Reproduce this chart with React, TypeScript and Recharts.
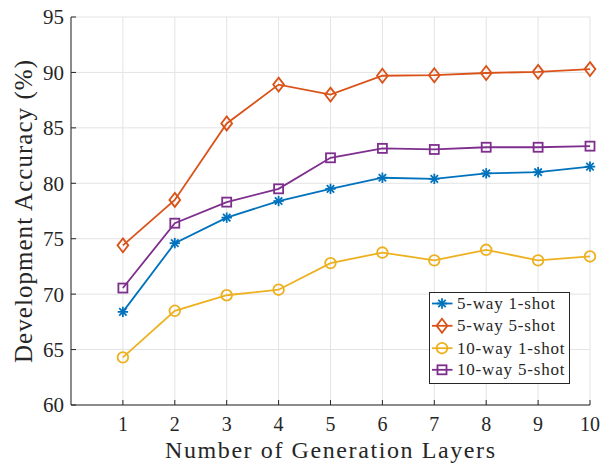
import React from 'react';
import { LineChart, Line, XAxis, YAxis, CartesianGrid, Legend } from 'recharts';

// ---- data ----
const layers = [1, 2, 3, 4, 5, 6, 7, 8, 9, 10];
const acc5way1shot = [68.4, 74.6, 76.9, 78.4, 79.5, 80.5, 80.4, 80.9, 81.0, 81.5];
const acc5way5shot = [74.4, 78.5, 85.4, 88.9, 88.0, 89.7, 89.75, 89.95, 90.05, 90.3];
const acc10way1shot = [64.3, 68.5, 69.9, 70.4, 72.8, 73.75, 73.05, 74.0, 73.05, 73.4];
const acc10way5shot = [70.55, 76.4, 78.3, 79.5, 82.3, 83.15, 83.05, 83.25, 83.25, 83.35];
const seriesNames = ['5-way 1-shot', '5-way 5-shot', '10-way 1-shot', '10-way 5-shot'];
const xTicks = [1, 2, 3, 4, 5, 6, 7, 8, 9, 10];
const yTicks = [60, 65, 70, 75, 80, 85, 90, 95];
const xLabel = 'Number of Generation Layers';
const yLabel = 'Development Accuracy (%)';

const data = layers.map((layer, i) => ({
  layer,
  s1: acc5way1shot[i],
  s2: acc5way5shot[i],
  s3: acc10way1shot[i],
  s4: acc10way5shot[i],
}));

const series = [
  { key: 's1', name: seriesNames[0], color: '#0072BD', marker: 'star' },
  { key: 's2', name: seriesNames[1], color: '#D95319', marker: 'diamond' },
  { key: 's3', name: seriesNames[2], color: '#EDB120', marker: 'circle' },
  { key: 's4', name: seriesNames[3], color: '#7E2F8E', marker: 'square' },
];
const legendTextLen = [98, 98, 107.5, 107.5];

const FONT = '"Liberation Serif", "Times New Roman", serif';
const INK = '#262626';

function Marker({ kind, cx, cy, color }: { kind: string; cx: number; cy: number; color: string }) {
  const sw = 1.8;
  if (kind === 'star') {
    const r = 5.2;
    const d = 3.7;
    return (
      <g stroke={color} strokeWidth={sw} fill="none">
        <line x1={cx - r} y1={cy} x2={cx + r} y2={cy} />
        <line x1={cx} y1={cy - r} x2={cx} y2={cy + r} />
        <line x1={cx - d} y1={cy - d} x2={cx + d} y2={cy + d} />
        <line x1={cx - d} y1={cy + d} x2={cx + d} y2={cy - d} />
      </g>
    );
  }
  if (kind === 'diamond') {
    const w = 5.4;
    const h = 7;
    return (
      <polygon
        points={`${cx},${cy - h} ${cx + w},${cy} ${cx},${cy + h} ${cx - w},${cy}`}
        fill="none"
        stroke={color}
        strokeWidth={sw}
      />
    );
  }
  if (kind === 'circle') {
    return <circle cx={cx} cy={cy} r={5.3} fill="none" stroke={color} strokeWidth={sw} />;
  }
  return <rect x={cx - 4.5} y={cy - 4.5} width={9} height={9} fill="none" stroke={color} strokeWidth={sw} />;
}

const makeDot = (kind: string, color: string) => (props: any) => {
  const { cx, cy, index } = props;
  if (cx == null || cy == null) return <g key={`d-${kind}-${index}`} />;
  return (
    <g key={`d-${kind}-${index}`}>
      <Marker kind={kind} cx={cx} cy={cy} color={color} />
    </g>
  );
};

const renderXLabel = () => (
  <text
    x={330}
    y={458}
    textAnchor="middle"
    fontFamily={FONT}
    fontSize={24}
    fill={INK}
    textLength={330}
    lengthAdjust="spacing"
  >
    {xLabel}
  </text>
);

const renderYLabel = () => (
  <text
    x={-211.5}
    y={31.5}
    transform="rotate(-90)"
    textAnchor="middle"
    fontFamily={FONT}
    fontSize={25}
    fill={INK}
    textLength={303}
    lengthAdjust="spacing"
  >
    {yLabel}
  </text>
);

const renderLegend = () => {
  const W = 140;
  const H = 91;
  const rows = [11.5, 33.8, 56.2, 77.8];
  return (
    <svg width={W + 2} height={H + 2} style={{ display: 'block', overflow: 'visible' }}>
      <rect x={0.5} y={0.5} width={W} height={H} fill="#ffffff" stroke={INK} strokeWidth={1} />
      {series.map((s, i) => (
        <g key={s.key}>
          <line x1={3} y1={rows[i]} x2={23.5} y2={rows[i]} stroke={s.color} strokeWidth={1.8} />
          <Marker kind={s.marker} cx={13} cy={rows[i]} color={s.color} />
          <text
            x={28}
            y={rows[i] + 5.6}
            fontFamily={FONT}
            fontSize={17}
            fill={INK}
            textLength={legendTextLen[i]}
            lengthAdjust="spacing"
          >
            {s.name}
          </text>
        </g>
      ))}
    </svg>
  );
};

export default function App() {
  return (
    <div style={{ position: 'absolute', left: 0, top: 0, width: 608, height: 464, background: '#ffffff' }}>
      <LineChart
        width={608}
        height={464}
        data={data}
        margin={{ top: 17, right: 18, bottom: 0, left: 0 }}
      >
        <CartesianGrid stroke="#e3e3e3" strokeWidth={1} />
        <XAxis
          dataKey="layer"
          type="number"
          domain={[0, 10]}
          ticks={xTicks}
          height={59}
          axisLine={{ stroke: INK, strokeWidth: 1 }}
          tickLine={{ stroke: INK, strokeWidth: 1 }}
          tickSize={-5}
          tickMargin={17}
          tick={{ fontFamily: FONT, fontSize: 20, fill: INK }}
          interval={0}
          label={renderXLabel}
        />
        <XAxis
          xAxisId="top"
          orientation="top"
          dataKey="layer"
          type="number"
          domain={[0, 10]}
          ticks={xTicks}
          height={0}
          axisLine={{ stroke: INK, strokeWidth: 1 }}
          tickLine={{ stroke: INK, strokeWidth: 1 }}
          tickSize={-5}
          tick={false}
          interval={0}
        />
        <YAxis
          type="number"
          domain={[60, 95]}
          ticks={yTicks}
          width={71}
          axisLine={{ stroke: INK, strokeWidth: 1 }}
          tickLine={{ stroke: INK, strokeWidth: 1 }}
          tickSize={-5}
          tickMargin={12}
          tick={{ fontFamily: FONT, fontSize: 21, fill: INK }}
          interval={0}
          label={renderYLabel}
        />
        <YAxis
          yAxisId="right"
          orientation="right"
          type="number"
          domain={[60, 95]}
          ticks={yTicks}
          width={0}
          axisLine={{ stroke: INK, strokeWidth: 1 }}
          tickLine={{ stroke: INK, strokeWidth: 1 }}
          tickSize={-5}
          tick={false}
          interval={0}
        />
        {series.map((s) => (
          <Line
            key={s.key}
            dataKey={s.key}
            name={s.name}
            stroke={s.color}
            strokeWidth={1.8}
            dot={makeDot(s.marker, s.color)}
            activeDot={false}
            isAnimationActive={false}
          />
        ))}
        <Legend
          layout="vertical"
          align="center"
          verticalAlign="middle"
          content={renderLegend}
          wrapperStyle={{ left: 429, top: 292, width: 142, height: 93, right: 'auto', bottom: 'auto' }}
        />
      </LineChart>
    </div>
  );
}
